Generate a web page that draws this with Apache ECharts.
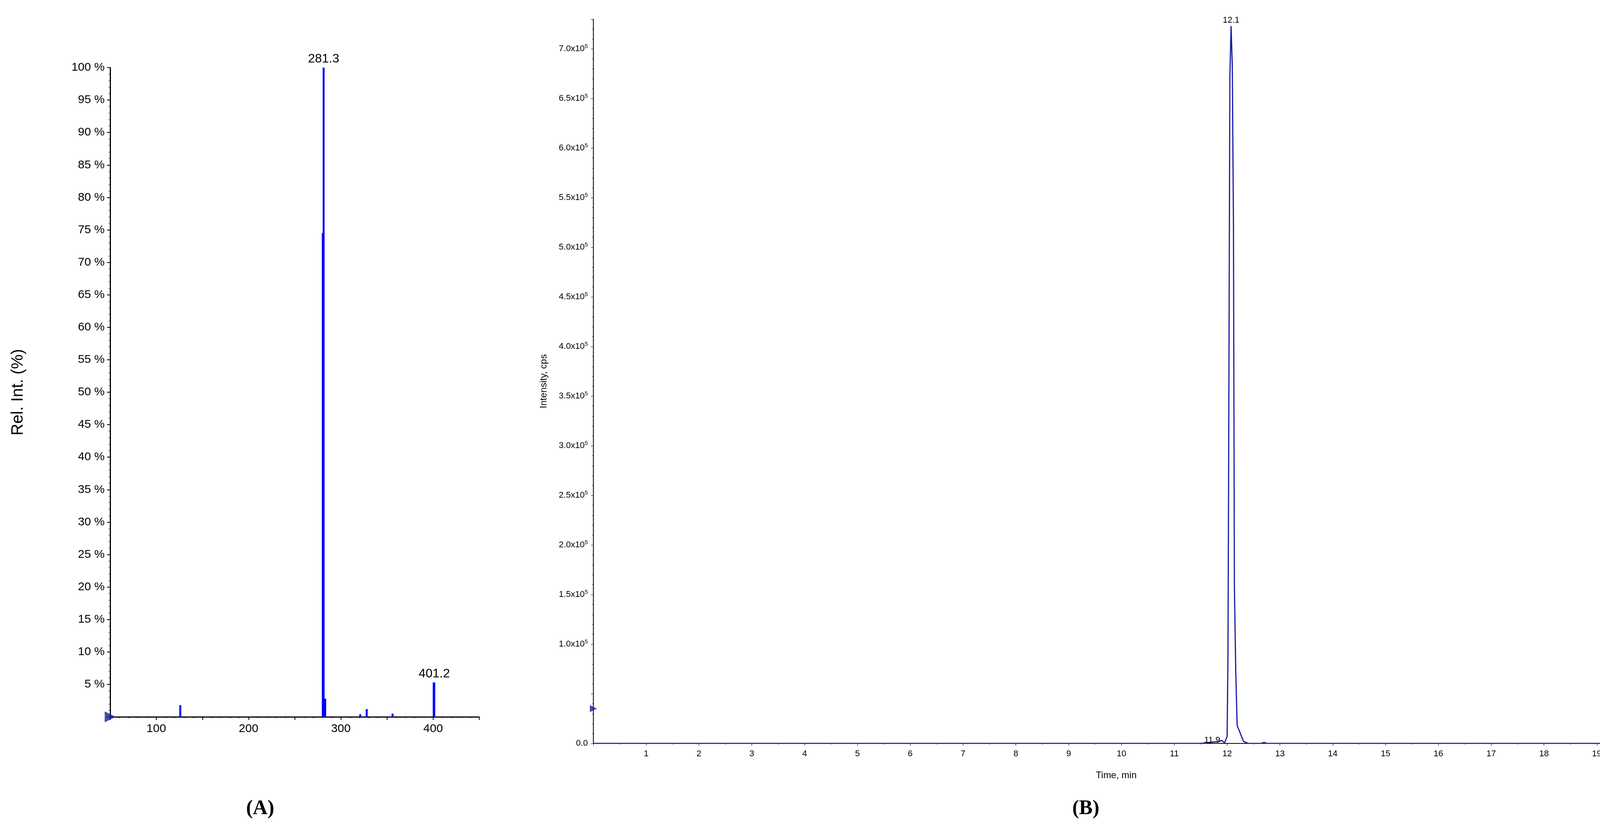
<!DOCTYPE html>
<html><head><meta charset="utf-8">
<script src="https://cdn.jsdelivr.net/npm/echarts@6/dist/echarts.min.js"></script>
<style>html,body{margin:0;padding:0;background:#fff}#c{width:4245px;height:2140px}</style>
</head><body><div id="c"></div>
<script>
// Panel A: mass spectrum (m/z, relative intensity %)
const msMz = [126, 280.4, 281.3, 283, 321, 328, 356, 400.6, 401.2];
const msInt = [1.8, 74.5, 100, 2.8, 0.4, 1.2, 0.5, 5.3, 5.3];
const msLabels = {"281.3": "281.3", "401.2": "401.2"};
// Panel B: chromatogram (time min, intensity x1e5 cps)
const chrTime = [0, 11.5, 11.85, 11.9, 11.95, 12.0, 12.016, 12.026, 12.052, 12.075, 12.098, 12.12, 12.138, 12.164, 12.19, 12.236, 12.31, 12.4, 12.65, 12.7, 12.75, 19.8];
const chrVal  = [0, 0, 0.02, 0.03, 0.005, 0.07, 0.88, 2.31, 6.72, 7.23, 6.83, 5.24, 1.57, 0.72, 0.18, 0.12, 0.02, 0, 0, 0.01, 0, 0];
const chrLabels = {"12.075": "12.1", "11.9": "11.9"};

const blue = '#0000ff', navy = '#1a1aa8';
const tickFont = {fontFamily: 'Liberation Sans', color: '#000'};
const ch = echarts.init(document.getElementById('c'));
ch.setOption({
  animation: false,
  grid: [
    {left: 282, top: 173, width: 945, height: 1662, outerBoundsMode: 'none', containLabel: false},
    {left: 1519, top: 49, right: 49, bottom: 237, outerBoundsMode: 'none', containLabel: false}
  ],
  xAxis: [
    {gridIndex: 0, type: 'value', min: 50, max: 450, interval: 50,
     axisLine: {lineStyle: {color: '#000', width: 3}}, axisTick: {length: 8, lineStyle: {color: '#000', width: 2}},
     minorTick: {show: true, splitNumber: 5, length: 4, lineStyle: {color: '#000'}},
     splitLine: {show: false},
     axisLabel: {...tickFont, fontSize: 30, margin: 16, formatter: v => v % 100 === 0 ? String(v) : ''}},
    {gridIndex: 1, type: 'value', min: 0, max: 19.8, interval: 1,
     name: 'Time, min', nameLocation: 'middle', nameGap: 70, nameTextStyle: {...tickFont, fontSize: 24},
     axisLine: {lineStyle: {color: '#000', width: 2}}, axisTick: {length: 6, lineStyle: {color: '#000'}},
     minorTick: {show: true, splitNumber: 2, length: 3, lineStyle: {color: '#000'}},
     splitLine: {show: false},
     axisLabel: {...tickFont, fontSize: 22, margin: 16, formatter: v => (v > 0 && v < 19.5) ? String(Math.round(v)) : ''}}
  ],
  yAxis: [
    {gridIndex: 0, type: 'value', min: 0, max: 100, interval: 5,
     name: 'Rel. Int. (%)', nameLocation: 'middle', nameGap: 215, nameTextStyle: {...tickFont, fontSize: 42},
     axisLine: {show: true, lineStyle: {color: '#000', width: 3}}, axisTick: {length: 8, lineStyle: {color: '#000', width: 2}},
     minorTick: {show: true, splitNumber: 5, length: 4, lineStyle: {color: '#000'}},
     splitLine: {show: false},
     axisLabel: {...tickFont, fontSize: 30, margin: 14, formatter: v => v === 0 ? '' : v + ' %'}},
    {gridIndex: 1, type: 'value', min: 0, max: 7.3, interval: 0.5,
     name: 'Intensity, cps', nameLocation: 'middle', nameGap: 115, nameTextStyle: {...tickFont, fontSize: 24},
     axisLine: {show: true, lineStyle: {color: '#000', width: 2}}, axisTick: {length: 6, lineStyle: {color: '#000'}},
     minorTick: {show: true, splitNumber: 5, length: 3, lineStyle: {color: '#000'}},
     splitLine: {show: false},
     axisLabel: {...tickFont, fontSize: 22, margin: 14,
       formatter: v => {
         if (Math.abs(v) < 1e-9) return '0.0';
         if (v < 0.9 || v > 7.05) return '';
         return v.toFixed(1) + 'x10{s|5}';
       },
       rich: {s: {fontSize: 15, verticalAlign: 'top', padding: [0, 0, 12, 0], fontFamily: 'Liberation Sans'}}}}
  ],
  series: [
    {type: 'bar', xAxisIndex: 0, yAxisIndex: 0, barWidth: 5, barGap: '-100%',
     itemStyle: {color: blue},
     label: {show: true, position: 'top', ...tickFont, fontSize: 32, distance: 6,
       formatter: p => msLabels[String(p.value[0])] || ''},
     data: msMz.map((m, i) => [m, msInt[i]])},
    {type: 'scatter', xAxisIndex: 0, yAxisIndex: 0, symbol: 'triangle', symbolRotate: -90, symbolSize: 28,
     itemStyle: {color: '#1a1a99'}, data: [[50, 0]]},
    {type: 'line', xAxisIndex: 1, yAxisIndex: 1, showSymbol: true, showAllSymbol: true, symbol: 'circle', symbolSize: 0.1,
     lineStyle: {color: navy, width: 3}, itemStyle: {color: navy},
     label: {show: true, ...tickFont, fontSize: 22,
       formatter: p => chrLabels[String(p.value[0])] || ''},
     labelLayout: {hideOverlap: false},
     data: chrTime.map((t, i) => {
       const lab = chrLabels[String(t)];
       const d = {value: [t, chrVal[i]]};
       if (lab === '11.9') d.label = {position: 'left', distance: 4, offset: [0, -8]};
       else d.label = {position: 'top', distance: 4};
       return d;
     })},
    {type: 'scatter', xAxisIndex: 1, yAxisIndex: 1, symbol: 'triangle', symbolRotate: -90, symbolSize: 18,
     itemStyle: {color: '#1a1a99'}, data: [[0, 0.35]]}
  ],
  graphic: [
    {type: 'text', left: 630, top: 2045, style: {text: '(A)', font: 'bold 52px "Liberation Serif"', fill: '#000'}},
    {type: 'text', left: 2745, top: 2045, style: {text: '(B)', font: 'bold 52px "Liberation Serif"', fill: '#000'}}
  ]
});
</script></body></html>
